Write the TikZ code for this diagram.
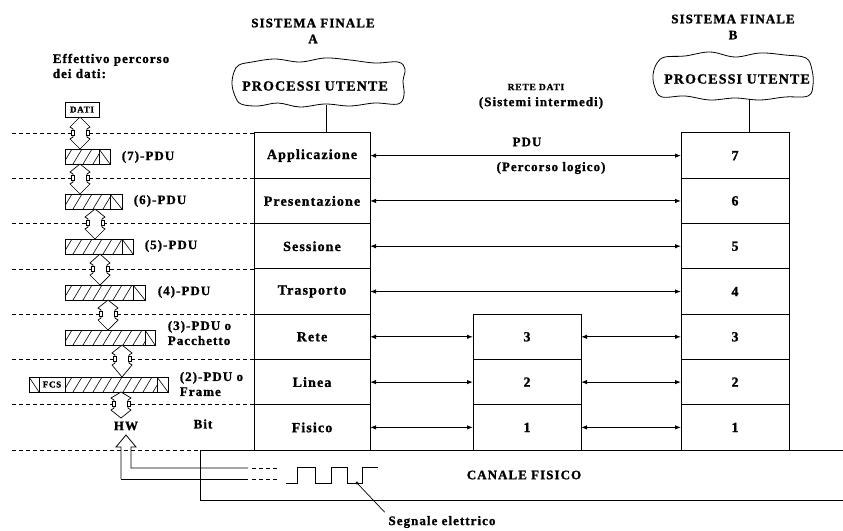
\documentclass[tikz,border=0pt]{standalone}
\usepackage{fontspec}
\setmainfont{Liberation Serif Bold}[LetterSpace=8, FakeBold=1.2]
\usetikzlibrary{arrows.meta}
\newcommand\pdubar[5]{%
  \node[pbar, minimum width={(#4-#2)*1pt}] (#1) at ({(#2+#4)/2},{#5+7.5}) {};
  \begin{scope}
    \clip (#2,#5) rectangle (#3,{#5+15});
    \foreach \k in {0,...,16}{\draw[hatch] ({#2-12+10*\k},{#5+15}) -- ++(9,-15);}
  \end{scope}
  \draw (#3,#5) -- (#3,{#5+15});
  \draw[hatch] (#3,#5) -- (#4,{#5+15});
}
\newcommand\ifarrow[4]{%
  \draw[iface] (#1,#2) -- ({#1-10},{#4-6}) -- ({#1-7},{#4-4}) -- ({#1-7},{#4+4}) -- ({#1-10},{#4+6}) -- (#1,#3)
     -- ({#1+10},{#4+6}) -- ({#1+7},{#4+4}) -- ({#1+7},{#4-4}) -- ({#1+10},{#4-6}) -- cycle;
  \draw[iface] ({#1-9},{#4-2.5}) rectangle ({#1-6},{#4+2.5});
  \draw[iface] ({#1+6},{#4-2.5}) rectangle ({#1+9},{#4+2.5});
}
\begin{document}
\begin{tikzpicture}[x=1pt,y=-1pt, line width=1pt,
  every node/.style={font=\fontsize{13}{15}\selectfont},
  layerA/.style={draw, minimum width=116pt, minimum height=45.29pt, inner sep=0pt, outer sep=0pt, font=\fontsize{14}{16}\selectfont},
  layerB/.style={draw, minimum width=108pt, minimum height=45.29pt, inner sep=0pt, outer sep=0pt, font=\fontsize{14}{16}\selectfont},
  pbar/.style={draw, inner sep=0pt, outer sep=0pt, minimum height=15pt},
  hatch/.style={line width=0.6pt},
  iface/.style={line width=0.7pt, fill=white},
  dline/.style={dash pattern=on 4pt off 3pt, line width=0.8pt},
  biarrow/.style={{Latex[length=6pt,width=4.5pt]}-{Latex[length=6pt,width=4.5pt]}, line width=1pt},
  lbl/.style={anchor=west, align=left}]
\useasboundingbox (0,0) rectangle (843,530);

% titles
\node[align=center] (tA) at (313,31) {SISTEMA FINALE\\[1pt]A};
\node[align=center] (tB) at (733,27) {SISTEMA FINALE\\[1pt]B};
\node[font=\fontsize{9.5}{10}\selectfont] (rete) at (536,87) {RETE DATI};
\node[font=\fontsize{13}{14}\selectfont] (sint) at (541,103) {(Sistemi intermedi)};
\node[lbl] (eff) at (49,66) {Effettivo percorso\\dei dati:};

% clouds
\draw[line width=0.8pt] plot[smooth cycle, tension=0.6] coordinates {
 (234,72) (232,84) (235,96) (241,104) (258,106) (278,103) (300,107) (325,104) (350,106) (375,103) (398,104)
 (404,95) (403,81) (405,69) (398,62) (375,63) (350,60) (325,58) (300,62) (275,59) (252,62) (239,65)};
\node[font=\fontsize{14}{16}\selectfont] (pA) at (315,86) {PROCESSI UTENTE};
\draw[line width=0.8pt] plot[smooth cycle, tension=0.6] coordinates {
 (657,63) (653,75) (655,88) (662,97) (685,96) (710,100) (735,98) (760,100) (785,97) (808,96)
 (813,85) (812,70) (806,58) (785,55) (760,53) (735,57) (710,52) (685,56) (665,57)};
\node[font=\fontsize{14}{16}\selectfont] (pB) at (737,79) {PROCESSI UTENTE};
\coordinate (cA) at (326,105);
\coordinate (cB) at (749,99);

% dashed level lines
\foreach \yy in {133,178,223,269,314,359,404} {\draw[dline] (12,\yy) -- (254,\yy);}
\draw[dline] (12,450) -- (200,450);

% stack A
\node[layerA] (a7) at (312,155.64) {Applicazione};
\node[layerA] (a6) at (312,200.93) {Presentazione};
\node[layerA] (a5) at (312,246.22) {Sessione};
\node[layerA] (a4) at (312,291.51) {Trasporto};
\node[layerA] (a3) at (312,336.80) {Rete};
\node[layerA] (a2) at (312,382.10) {Linea};
\node[layerA] (a1) at (312,427.40) {Fisico};
% middle stack
\node[layerB] (m3) at (527,336.80) {3};
\node[layerB] (m2) at (527,382.10) {2};
\node[layerB] (m1) at (527,427.40) {1};
% stack B
\node[layerB] (b7) at (735,155.64) {7};
\node[layerB] (b6) at (735,200.93) {6};
\node[layerB] (b5) at (735,246.22) {5};
\node[layerB] (b4) at (735,291.51) {4};
\node[layerB] (b3) at (735,336.80) {3};
\node[layerB] (b2) at (735,382.10) {2};
\node[layerB] (b1) at (735,427.40) {1};

\draw (cA) -- (cA |- a7.north);
\draw (cB) -- (cB |- b7.north);

% peer arrows
\draw[biarrow] (a7.east) -- (b7.west);
\draw[biarrow] (a6.east) -- (b6.west);
\draw[biarrow] (a5.east) -- (b5.west);
\draw[biarrow] (a4.east) -- (b4.west);
\foreach \k in {3,2,1} {
  \draw[biarrow] (a\k.east) -- (m\k.west);
  \draw[biarrow] (m\k.east) -- (b\k.west);
}
\node (pdu) at (527,142) {PDU};
\node (plog) at (551,168) {(Percorso logico)};

% left column: data units
\node[draw, inner sep=0pt, outer sep=0pt, minimum width=34pt, minimum height=15pt,
      font=\fontsize{9}{9}\selectfont] (dati) at (82,109.5) {DATI};
\pdubar{p7}{65}{99}{110}{149}
\pdubar{p6}{65}{110}{122}{194}
\pdubar{p5}{65}{122}{133}{239}
\pdubar{p4}{65}{133}{145}{285}
\pdubar{p3}{65}{145}{155}{330}
% (2) frame bar
\node[pbar, minimum width=139pt] (p2) at (98.5,384.5) {};
\begin{scope}
  \clip (65,377) rectangle (157,392);
  \foreach \k in {0,...,11}{\draw[hatch] ({53+10*\k},392) -- ++(9,-15);}
\end{scope}
\draw (39,377) -- (39,392);
\draw (65,377) -- (65,392);
\draw (157,377) -- (157,392);
\draw[hatch] (29,377) -- (39,392);
\draw[hatch] (157,377) -- (168,392);
\node[font=\fontsize{9}{9}\selectfont, inner sep=0pt] (fcs) at (52,384.5) {FCS};

\node[lbl] (l7) at (118,157) {(7)-PDU};
\node[lbl] (l6) at (130,201) {(6)-PDU};
\node[lbl] (l5) at (141,246) {(5)-PDU};
\node[lbl] (l4) at (154,292) {(4)-PDU};
\node[lbl] (l3) at (164,333) {(3)-PDU o\\Pacchetto};
\node[lbl] (l2) at (176,384) {(2)-PDU o\\Frame};
\node (hw) at (126,426) {HW};
\node (bit) at (203,424) {Bit};

% interface arrows
\ifarrow{80}{117}{149}{133}
\ifarrow{80}{164}{194}{178}
\ifarrow{95}{209}{239}{223}
\ifarrow{100}{254}{285}{269}
\ifarrow{108}{300}{330}{314}
\ifarrow{122}{345}{377}{359}
\ifarrow{121}{392}{418}{404}

% physical channel
\draw (843,450) -- (200,450) -- (200,500) -- (843,500);
\node[font=\fontsize{13}{14}\selectfont] (canale) at (524,475) {CANALE FISICO};

% arrow from channel to HW
\draw[line width=0.8pt] (121,479) -- (121,447) -- (116,447) -- (126,435) -- (136,447) -- (131,447) -- (131,468) -- (248,468);
\draw[line width=0.8pt] (121,479) -- (248,479);
\draw[dline] (252,468) -- (278,468);
\draw[dline] (252,479) -- (278,479);

% square wave
\draw[line width=0.9pt] (286,483) -- (297,483) -- (297,467) -- (315,467) -- (315,483) -- (331,483) -- (331,467)
  -- (347,467) -- (347,483) -- (362,483) -- (362,467) -- (378,467);
\coordinate (dot) at (357,483);
\fill (dot) circle (1.6pt);
\node (seg) at (442,522) {Segnale elettrico};
\draw[line width=0.7pt] (dot) -- (seg.north west);
\end{tikzpicture}
\end{document}
